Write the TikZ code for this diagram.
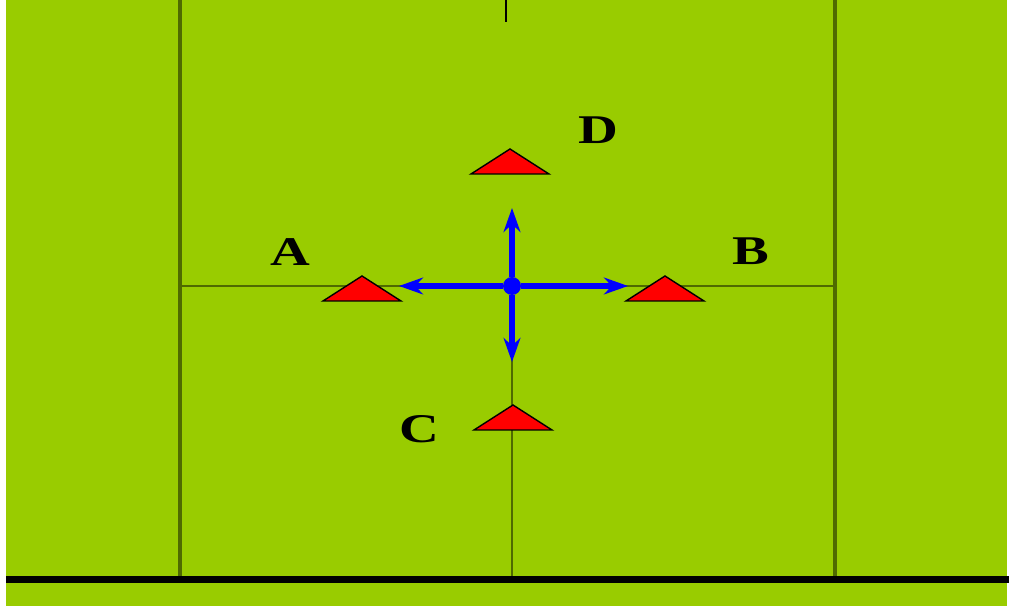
\documentclass[tikz,border=0pt]{standalone}
\usepackage{fontspec}
\setmainfont{Liberation Serif}
\newfontfamily\widefont[FakeStretch=1.35]{Liberation Serif}
\usetikzlibrary{arrows.meta}
\definecolor{pitch}{HTML}{99CC00}
\definecolor{chalk}{HTML}{4F6A00}

\begin{document}
\begin{tikzpicture}[x=0.025cm, y=0.025cm,
  cone/.style={draw=black, fill=red, line width=1pt, line join=miter},
  pitchline/.style={chalk, line width=3.5pt},
  arr/.style={-{Stealth[length=0.6cm, width=0.42cm]}, blue, line width=4pt},
  lbl/.style={font=\widefont\fontsize{29}{31}\selectfont\bfseries}
]
  \useasboundingbox (0,0) rectangle (1009,610);
  \fill[pitch] (6,4) rectangle (1007,610);

  % field lines
  \draw[pitchline] (180,610) -- (180,33);
  \draw[pitchline] (835,610) -- (835,33);
  \draw[chalk, line width=1.5pt] (180,324) -- (835,324);
  \draw[chalk, line width=2pt] (512,250) -- (512,33);
  \draw[black, line width=2pt] (506,610) -- (506,588);
  \draw[black, line width=5pt] (6,30.5) -- (1009,30.5);

  % cones
  \foreach \n/\x/\y in {A/362/309, B/665/309, C/513/180, D/510/436} {
    \coordinate (cone\n) at (\x,\y);
    \draw[cone] (\x-39,\y) -- (\x,\y+25) -- (\x+39,\y) -- cycle;
  }

  \node[lbl] (labA) at (290,358) {A};
  \node[lbl] (labB) at (751,358.5) {B};
  \node[lbl] (labC) at (419,180.5) {C};
  \node[lbl] (labD) at (598,479.5) {D};

  % player and directions
  \node[circle, fill=blue, inner sep=0pt, minimum size=0.45cm] (ctr) at (512,324) {};
  \coordinate (tipL) at (399,324);
  \coordinate (tipR) at (628,324);
  \coordinate (tipU) at (512,402);
  \coordinate (tipD) at (512,248);
  \draw[arr] (ctr) -- (tipL);
  \draw[arr] (ctr) -- (tipR);
  \draw[arr] (ctr) -- (tipU);
  \draw[arr] (ctr) -- (tipD);
\end{tikzpicture}
\end{document}
